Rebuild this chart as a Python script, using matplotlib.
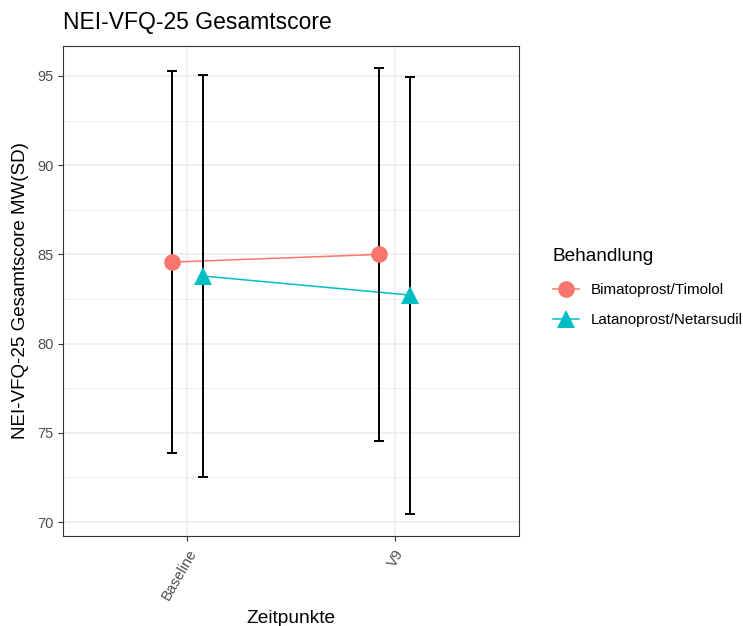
import numpy as np
import matplotlib
matplotlib.use("Agg")
from matplotlib import pyplot as plt
from matplotlib.lines import Line2D

plt.rcParams['font.family'] = ['Liberation Sans', 'DejaVu Sans']

# data
zeitpunkte = ["Baseline", "V9"]
gruppen = ["Bimatoprost/Timolol", "Latanoprost/Netarsudil"]
mw_bima = [84.57, 85.0]
sd_bima = [10.7, 10.43]
mw_lat = [83.79, 82.72]
sd_lat = [11.27, 12.25]

farben = ["#F8766D", "#00BFC4"]
marker = ["o", "^"]
msize = [12, 13]
dodge = 0.075

fig = plt.figure(figsize=(7.43, 6.26), dpi=100)
ax = fig.add_axes([63 / 743, 1 - 536 / 626, (519 - 63) / 743, (536 - 46) / 626])

x = np.arange(1, len(zeitpunkte) + 1)
serien = [(mw_bima, sd_bima), (mw_lat, sd_lat)]
for i, (mw, sd) in enumerate(serien):
    xs = x + (i * 2 - 1) * dodge
    ax.plot(xs, mw, color=farben[i], lw=1.1, zorder=3)
    ax.errorbar(xs, mw, yerr=sd, fmt="none", ecolor="black", elinewidth=1.4,
                capsize=3.8, capthick=1.4, zorder=4)
    ax.plot(xs, mw, linestyle="none", marker=marker[i], ms=msize[i],
            color=farben[i], markeredgewidth=0, zorder=5)

ax.set_xlim(0.4, 2.6)
ax.set_ylim(69.22, 96.68)
ax.set_xticks(x)
ax.set_xticklabels(zeitpunkte, rotation=60, ha="right", rotation_mode="anchor")
ax.set_yticks(np.arange(70, 96, 5))
ax.set_yticks(np.arange(72.5, 96, 5), minor=True)

ax.grid(True, which="major", color="#EBEBEB", lw=1.1)
ax.grid(True, which="minor", axis="y", color="#EBEBEB", lw=0.55)
ax.set_axisbelow(True)
for s in ax.spines.values():
    s.set_color("#333333")
    s.set_linewidth(0.8)
ax.tick_params(which="major", length=3.5, width=0.8, color="#333333",
               labelcolor="#4D4D4D", labelsize=10.5, pad=3)
ax.tick_params(which="minor", length=0)
for lab in ax.get_xticklabels():
    lab.set_transform(lab.get_transform() + matplotlib.transforms.ScaledTranslation(0.0, -0.02, fig.dpi_scale_trans))

ax.set_xlabel("Zeitpunkte", fontsize=13.8, labelpad=5)
ax.set_ylabel("NEI-VFQ-25 Gesamtscore MW(SD)", fontsize=13.5, labelpad=6)
fig.text(63 / 743, 1 - 22 / 626, "NEI-VFQ-25 Gesamtscore", fontsize=16.5,
         ha="left", va="center")

# legend title as separate text, ggplot-like spacing
fig.text(552 / 743, 1 - 257 / 626, "Behandlung", fontsize=13.7,
         ha="left", va="center")
handles = [Line2D([], [], color=farben[i], lw=1.1, marker=marker[i], ms=msize[i],
                  markeredgewidth=0) for i in range(2)]
leg = fig.legend(handles, gruppen, loc="center left",
                 bbox_to_anchor=(547 / 743, 1 - 305 / 626), frameon=False,
                 fontsize=10.9, handlelength=1.7, borderpad=0.4,
                 labelspacing=1.05, handletextpad=0.8, borderaxespad=0)

fig.savefig("out.png", dpi=100)
